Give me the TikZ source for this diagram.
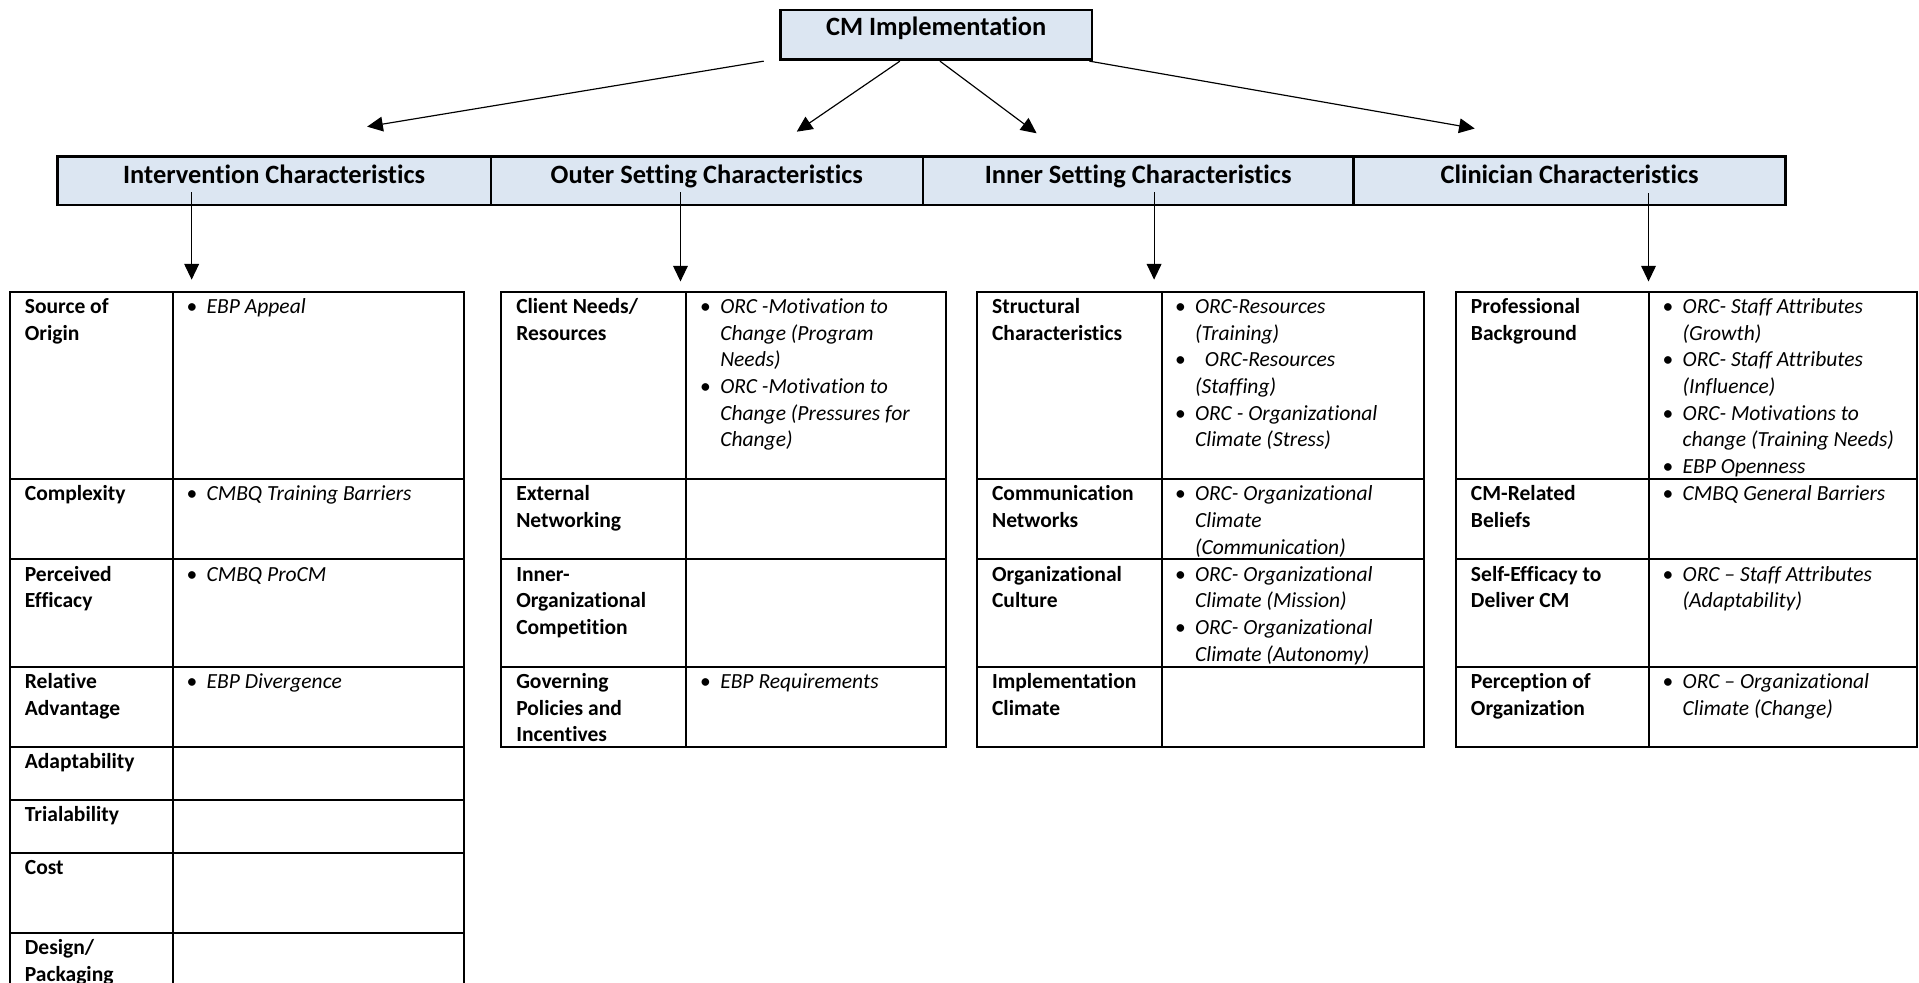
\documentclass[tikz,border=0pt]{standalone}
\usepackage{fontspec}
\setmainfont{Carlito}[Ligatures=NoCommon]
\usetikzlibrary{arrows.meta,calc}
\definecolor{hdrfill}{HTML}{DCE6F2}
\newcommand{\bitem}[1]{\makebox[0pt][c]{\textbullet}\hspace{7.5pt}\textit{#1}}
\newcommand{\citem}[1]{\hspace{7.5pt}\textit{#1}}
\newcommand{\lns}[1]{\begin{tabular}[t]{@{}l@{}}#1\end{tabular}}
\begin{document}
\begin{tikzpicture}[x=0.625pt,y=-0.625pt,
  hdr/.style={draw, line width=1.2pt, fill=hdrfill, inner sep=0pt,
    font=\fontsize{13.5}{16}\selectfont\bfseries, text height=9pt, text depth=6.6pt,
    minimum height=39.5*0.625pt},
  topbox/.style={hdr, text height=8.4pt, text depth=7.6pt,
    minimum width=254.2*0.625pt, minimum height=40.3*0.625pt},
  arr/.style={line width=0.6pt, -{Triangle[length=8pt,width=7.5pt]}},
  tbl/.style={line width=1pt},
  ca/.style={anchor=base west, inner sep=0pt, font=\fontsize{11}{13.6}\selectfont\bfseries},
  cb/.style={anchor=base west, inner sep=0pt, font=\fontsize{11}{13.6}\selectfont}]
\useasboundingbox (0,0) rectangle (1568,803);

% top box
\node[topbox] (cm) at (764.9,28.35) {CM Implementation};

% header bar
\node[hdr, minimum width=354*0.625pt] (ic)  at (224,147.75)   {Intervention Characteristics};
\node[hdr, minimum width=353*0.625pt] (oc)  at (577.5,147.75) {Outer Setting Characteristics};
\node[hdr, minimum width=352*0.625pt] (isc) at (930,147.75)   {Inner Setting Characteristics};
\node[hdr, minimum width=353*0.625pt] (cc)  at (1282.5,147.75){Clinician Characteristics};

% arrows from top box
\coordinate (a1s) at ($(cm.south west)+(-12.8,0.5)$);
\coordinate (a2s) at ($(cm.south)+(-29.6,0.5)$);
\coordinate (a3s) at ($(cm.south)+(3.1,0.5)$);
\coordinate (a4s) at ($(cm.south east)+(-2.8,0.5)$);
\coordinate (a1e) at (300,103.5);
\coordinate (a2e) at (651,107.6);
\coordinate (a3e) at (847,108.9);
\coordinate (a4e) at (1205,105);
\draw[arr] (a1s) -- (a1e);
\draw[arr] (a2s) -- (a2e);
\draw[arr] (a3s) -- (a3e);
\draw[arr] (a4s) -- (a4e);

% vertical arrows
\coordinate (v1s) at (156.6,157); \coordinate (v1e) at (156.6,228.5);
\coordinate (v2s) at (556,157);   \coordinate (v2e) at (556,230);
\coordinate (v3s) at (943,157);   \coordinate (v3e) at (943,228.5);
\coordinate (v4s) at (1347,158);  \coordinate (v4e) at (1347,230);
\draw[arr] (v1s) -- (v1e);
\draw[arr] (v2s) -- (v2e);
\draw[arr] (v3s) -- (v3e);
\draw[arr] (v4s) -- (v4e);

% ---------- Table 1 ----------
\draw[tbl] (8.2,812) -- (8.2,238.3) -- (379.4,238.3) -- (379.4,812);
\draw[tbl] (141,238.3) -- (141,812);
\foreach \yy in {391.4,457,544.7,610,653.6,696.7,762}
  \draw[tbl] (8.2,\yy) -- (379.4,\yy);
\node[ca] (t1a1) at (20,256.2) {\lns{Source of\\Origin}};
\node[cb] (t1b1) at (156.5,256.2) {\lns{\bitem{EBP Appeal}}};
\node[ca] (t1a2) at (20,409.3) {\lns{Complexity}};
\node[cb] (t1b2) at (156.5,409.3) {\lns{\bitem{CMBQ Training Barriers}}};
\node[ca] (t1a3) at (20,474.9) {\lns{Perceived\\Efficacy}};
\node[cb] (t1b3) at (156.5,474.9) {\lns{\bitem{CMBQ ProCM}}};
\node[ca] (t1a4) at (20,562.6) {\lns{Relative\\Advantage}};
\node[cb] (t1b4) at (156.5,562.6) {\lns{\bitem{EBP Divergence}}};
\node[ca] (t1a5) at (20,627.9) {\lns{Adaptability}};
\node[ca] (t1a6) at (20,671.5) {\lns{Trialability}};
\node[ca] (t1a7) at (20,714.6) {\lns{Cost}};
\node[ca] (t1a8) at (20,779.9) {\lns{Design/\\Packaging}};

% ---------- Table 2 ----------
\draw[tbl] (409.4,238.3) rectangle (772.7,610);
\draw[tbl] (560.5,238.3) -- (560.5,610);
\foreach \yy in {391.4,457,544.7}
  \draw[tbl] (409.4,\yy) -- (772.7,\yy);
\node[ca] (t2a1) at (421.5,256.2) {\lns{Client Needs/\\Resources}};
\node[cb] (t2b1) at (576.2,256.2) {\lns{\bitem{ORC -Motivation to}\\\citem{Change (Program}\\\citem{Needs)}\\
  \bitem{ORC -Motivation to}\\\citem{Change (Pressures for}\\\citem{Change)}}};
\node[ca] (t2a2) at (421.5,409.3) {\lns{External\\Networking}};
\node[ca] (t2a3) at (421.5,474.9) {\lns{Inner-\\Organizational\\Competition}};
\node[ca] (t2a4) at (421.5,562.6) {\lns{Governing\\Policies and\\Incentives}};
\node[cb] (t2b4) at (576.2,562.6) {\lns{\bitem{EBP Requirements}}};

% ---------- Table 3 ----------
\draw[tbl] (798,238.3) rectangle (1163.8,610);
\draw[tbl] (949.7,238.3) -- (949.7,610);
\foreach \yy in {391.4,457,544.7}
  \draw[tbl] (798,\yy) -- (1163.8,\yy);
\node[ca] (t3a1) at (810.3,256.2) {\lns{Structural\\Characteristics}};
\node[cb] (t3b1) at (964.2,256.2) {\lns{\bitem{ORC-Resources}\\\citem{(Training)}\\
  \bitem{\hspace{5pt}ORC-Resources}\\\citem{(Staffing)}\\
  \bitem{ORC - Organizational}\\\citem{Climate (Stress)}}};
\node[ca] (t3a2) at (810.3,409.3) {\lns{Communication\\Networks}};
\node[cb] (t3b2) at (964.2,409.3) {\lns{\bitem{ORC- Organizational}\\\citem{Climate}\\\citem{(Communication)}}};
\node[ca] (t3a3) at (810.3,474.9) {\lns{Organizational\\Culture}};
\node[cb] (t3b3) at (964.2,474.9) {\lns{\bitem{ORC- Organizational}\\\citem{Climate (Mission)}\\
  \bitem{ORC- Organizational}\\\citem{Climate (Autonomy)}}};
\node[ca] (t3a4) at (810.3,562.6) {\lns{Implementation\\Climate}};

% ---------- Table 4 ----------
\draw[tbl] (1189.4,238.3) rectangle (1566,610);
\draw[tbl] (1347,238.3) -- (1347,610);
\foreach \yy in {391.4,457,544.7}
  \draw[tbl] (1189.4,\yy) -- (1566,\yy);
\node[ca] (t4a1) at (1201.6,256.2) {\lns{Professional\\Background}};
\node[cb] (t4b1) at (1362.6,256.2) {\lns{\bitem{ORC- Staff Attributes}\\\citem{(Growth)}\\
  \bitem{ORC- Staff Attributes}\\\citem{(Influence)}\\
  \bitem{ORC- Motivations to}\\\citem{change (Training Needs)}\\
  \bitem{EBP Openness}}};
\node[ca] (t4a2) at (1201.6,409.3) {\lns{CM-Related\\Beliefs}};
\node[cb] (t4b2) at (1362.6,409.3) {\lns{\bitem{CMBQ General Barriers}}};
\node[ca] (t4a3) at (1201.6,474.9) {\lns{Self-Efficacy to\\Deliver CM}};
\node[cb] (t4b3) at (1362.6,474.9) {\lns{\bitem{ORC – Staff Attributes}\\\citem{(Adaptability)}}};
\node[ca] (t4a4) at (1201.6,562.6) {\lns{Perception of\\Organization}};
\node[cb] (t4b4) at (1362.6,562.6) {\lns{\bitem{ORC – Organizational}\\\citem{Climate (Change)}}};
\end{tikzpicture}
\end{document}
